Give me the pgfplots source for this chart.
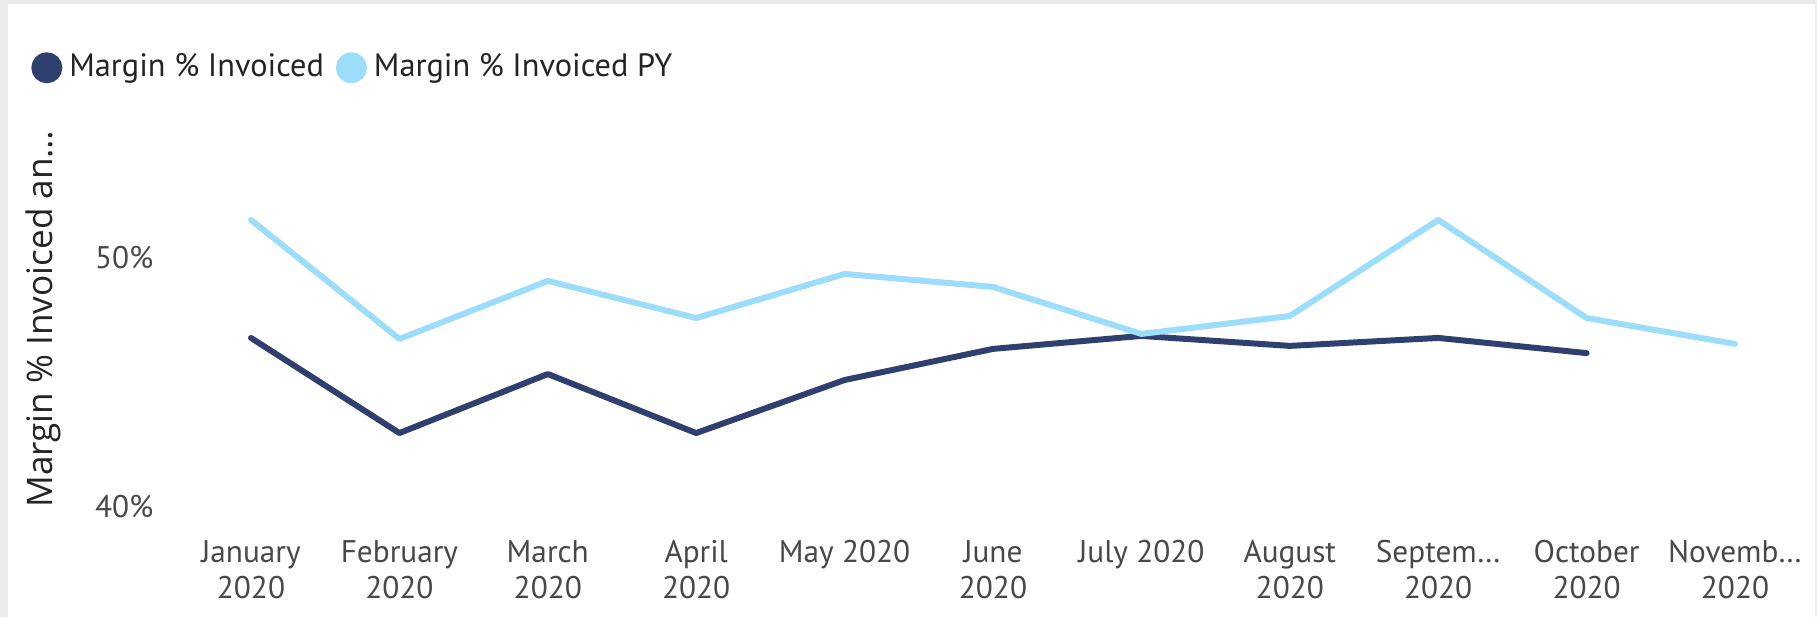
\documentclass[border=0pt]{standalone}
\usepackage{pgfplots}
\pgfplotsset{compat=1.18}
\usepackage{fontspec}
\setmainfont{PT Sans}
\newfontfamily\titlefont{Open Sans}
\definecolor{navy}{HTML}{2F406F}
\definecolor{sky}{HTML}{9BDDFA}
\definecolor{txt}{HTML}{252423}
\definecolor{tickc}{HTML}{4A4846}
\definecolor{framec}{HTML}{EBEBEB}

\begin{document}
\begin{tikzpicture}
\fill[framec] (0,0) rectangle (181.7mm,61.7mm);
\fill[white] (0.8mm,0) rectangle (181.5mm,61.3mm);
\begin{axis}[
  at={(17.68mm,11.0mm)}, anchor=south west,
  scale only axis, width=163.24mm, height=34.86mm,
  xmin=-0.5, xmax=10.5, ymin=40, ymax=54,
  axis line style={draw=none}, tick style={draw=none},
  xtick={0,...,10},
  xticklabels={{January\\2020},{February\\2020},{March\\2020},{April\\2020},{May 2020},{June\\2020},{July 2020},{August\\2020},{Septem…\\2020},{October\\2020},{Novemb…\\2020}},
  xticklabel style={font=\fontsize{8.9}{10.2}\selectfont, text=tickc, align=center, anchor=north, yshift=-2.1mm},
  ytick={40,50}, yticklabels={40\%,50\%},
  yticklabel style={font=\fontsize{8.9}{10}\selectfont, text=tickc, anchor=east, xshift=-1.1mm},
  ylabel={Margin \% Invoiced an…},
  ylabel style={at={(axis description cs:-0.082,0.539)}, anchor=center, font=\titlefont\fontsize{10}{12}\selectfont, text=txt},
  legend style={draw=none, fill=none, at={(axis description cs:-0.096,1.26)}, anchor=west,
    legend columns=2, font=\fontsize{9.2}{11}\selectfont, text=txt,
    /tikz/every even column/.append style={column sep=0.5mm}},
]
\addplot[navy, line width=1.7pt, line join=round, line cap=round,
  legend image code/.code={\fill[navy] (1.25mm,0) circle (1.25mm);}]
  coordinates {(0,46.79) (1,42.97) (2,45.34) (3,42.97) (4,45.10) (5,46.35) (6,46.87) (7,46.47) (8,46.79) (9,46.18)};
\addlegendentry{Margin \% Invoiced}
\addplot[sky, line width=1.7pt, line join=round, line cap=round,
  legend image code/.code={\fill[sky] (1.25mm,0) circle (1.25mm);}]
  coordinates {(0,51.53) (1,46.75) (2,49.08) (3,47.59) (4,49.36) (5,48.84) (6,46.95) (7,47.67) (8,51.53) (9,47.59) (10,46.55)};
\addlegendentry{Margin \% Invoiced PY}
\end{axis}
\pgfresetboundingbox
\useasboundingbox (0,0) rectangle (181.7mm,61.7mm);
\end{tikzpicture}
\end{document}
